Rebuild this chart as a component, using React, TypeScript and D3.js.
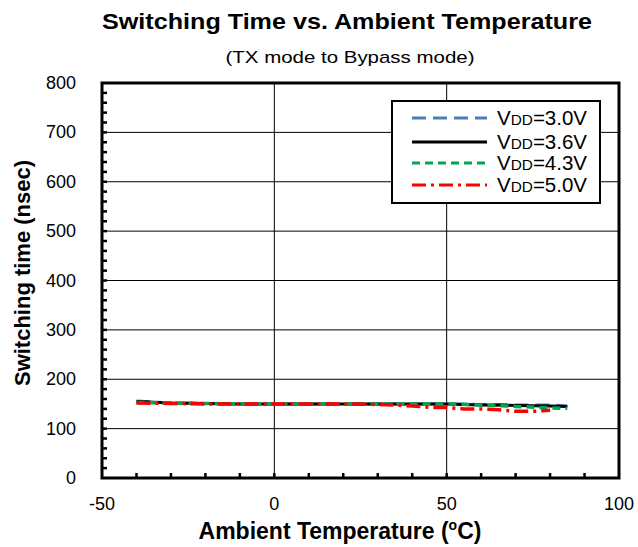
import React, { useEffect, useRef } from "react";
import * as d3 from "d3";

const temps = [-40, -30, -20, -10, 0, 10, 20, 30, 40, 50, 60, 70, 80, 85];
const vdd30 = [156, 152, 151, 150, 150, 150, 150, 150, 150, 150, 149, 148, 148, 146];
const vdd36 = [155, 152, 151, 150, 150, 150, 150, 150, 150, 150, 148, 147, 146, 145];
const vdd43 = [153, 152, 151, 150, 150, 150, 150, 150, 150, 150, 148, 145, 142, 141];
const redTemps = [-40, -30, -20, -10, 0, 10, 20, 30, 40, 45, 50, 55, 60, 65, 70, 75, 80];
const vdd50 = [152, 151, 150, 150, 150, 150, 150, 149, 146, 143, 143, 140, 140, 138, 135, 135, 137];

const seriesNames = ["3.0V", "3.6V", "4.3V", "5.0V"];
const xTicks = [-50, 0, 50, 100];
const yTicks = [0, 100, 200, 300, 400, 500, 600, 700, 800];

export default function App() {
  const ref = useRef<SVGSVGElement>(null);
  useEffect(() => {
    const svg = d3.select(ref.current);
    svg.selectAll("*").remove();
    const W = 638, H = 547;
    const L = 102, R = 619, T = 83, B = 478;
    const x = d3.scaleLinear().domain([-50, 100]).range([L, R]);
    const y = d3.scaleLinear().domain([0, 800]).range([B, T]);
    const font = "'Liberation Sans', Arial, sans-serif";

    svg.append("rect").attr("width", W).attr("height", H).attr("fill", "#fff");

    // gridlines
    const g = svg.append("g");
    xTicks.slice(1, -1).forEach((t) =>
      g.append("line").attr("x1", x(t)).attr("x2", x(t)).attr("y1", T).attr("y2", B)
        .attr("stroke", "#000").attr("stroke-width", 1));
    yTicks.slice(1, -1).forEach((t) =>
      g.append("line").attr("x1", L).attr("x2", R).attr("y1", y(t)).attr("y2", y(t))
        .attr("stroke", "#000").attr("stroke-width", 1));

    // minor ticks
    d3.range(-40, 100, 10).forEach((t) =>
      g.append("line").attr("x1", x(t)).attr("x2", x(t)).attr("y1", B).attr("y2", B - 5)
        .attr("stroke", "#000").attr("stroke-width", 2.5));
    d3.range(20, 800, 20).forEach((t) =>
      g.append("line").attr("x1", L).attr("x2", L + 5).attr("y1", y(t)).attr("y2", y(t))
        .attr("stroke", "#000").attr("stroke-width", 2.5));

    // lines
    const line = d3.line<[number, number]>().x((d) => x(d[0])).y((d) => y(d[1]));
    const mk = (xs: number[], ys: number[]) => xs.map((t, i) => [t, ys[i]] as [number, number]);
    const plot = svg.append("g");
    plot.append("path").attr("d", line(mk(temps, vdd30))).attr("fill", "none")
      .attr("stroke", "#4a7ebb").attr("stroke-width", 3).attr("stroke-dasharray", "14,7");
    plot.append("path").attr("d", line(mk(temps, vdd36))).attr("fill", "none")
      .attr("stroke", "#000").attr("stroke-width", 3);
    plot.append("path").attr("d", line(mk(temps, vdd43))).attr("fill", "none")
      .attr("stroke", "#00a651").attr("stroke-width", 3.5).attr("stroke-dasharray", "8,5");
    plot.append("path").attr("d", line(mk(redTemps, vdd50))).attr("fill", "none")
      .attr("stroke", "#ff0000").attr("stroke-width", 3.5).attr("stroke-dasharray", "14,5,3,5");

    // frame
    svg.append("rect").attr("x", L).attr("y", T).attr("width", R - L).attr("height", B - T)
      .attr("fill", "none").attr("stroke", "#000").attr("stroke-width", 3);

    // legend
    const lg = svg.append("g");
    lg.append("rect").attr("x", 392).attr("y", 101).attr("width", 208).attr("height", 102)
      .attr("fill", "#fff").attr("stroke", "#000").attr("stroke-width", 2);
    const rowsY = [118, 142, 163, 185];
    const styles = [
      { c: "#4a7ebb", w: 3, da: "14,7" },
      { c: "#000", w: 3, da: "" },
      { c: "#00a651", w: 3, da: "8,5" },
      { c: "#ff0000", w: 3, da: "14,5,3,5" },
    ];
    seriesNames.forEach((n, i) => {
      lg.append("line").attr("x1", 412).attr("x2", 487).attr("y1", rowsY[i]).attr("y2", rowsY[i])
        .attr("stroke", styles[i].c).attr("stroke-width", styles[i].w)
        .attr("stroke-dasharray", styles[i].da || null);
      const t = lg.append("text").attr("x", 497).attr("y", rowsY[i] + 7)
        .attr("font-family", font).attr("font-size", 20).attr("fill", "#000")
        .attr("textLength", 90).attr("lengthAdjust", "spacingAndGlyphs");
      t.append("tspan").text("V");
      t.append("tspan").attr("font-size", 15).text("DD");
      t.append("tspan").text("=" + n);
    });

    // tick labels
    yTicks.forEach((t) =>
      svg.append("text").attr("x", 76).attr("y", y(t) + 6).attr("text-anchor", "end")
        .attr("font-family", font).attr("font-size", 18).text(String(t)));
    xTicks.forEach((t) =>
      svg.append("text").attr("x", x(t)).attr("y", 510).attr("text-anchor", "middle")
        .attr("font-family", font).attr("font-size", 18).text(String(t)));

    // titles
    svg.append("text").attr("x", 347).attr("y", 29).attr("text-anchor", "middle")
      .attr("font-family", font).attr("font-size", 22).attr("font-weight", "bold")
      .attr("textLength", 490).attr("lengthAdjust", "spacingAndGlyphs")
      .text("Switching Time vs. Ambient Temperature");
    svg.append("text").attr("x", 350).attr("y", 63).attr("text-anchor", "middle")
      .attr("font-family", font).attr("font-size", 17)
      .attr("textLength", 249).attr("lengthAdjust", "spacingAndGlyphs")
      .text("(TX mode to Bypass mode)");
    const xl = svg.append("text").attr("x", 340).attr("y", 539).attr("text-anchor", "middle")
      .attr("font-family", font).attr("font-size", 23).attr("font-weight", "bold");
    xl.append("tspan").text("Ambient Temperature (");
    xl.append("tspan").attr("font-size", 14).attr("dy", -9).text("o");
    xl.append("tspan").attr("dy", 9).text("C)");
    svg.append("text").attr("transform", "translate(30,273) rotate(-90)").attr("text-anchor", "middle")
      .attr("font-family", font).attr("font-size", 22).attr("font-weight", "bold")
      .attr("textLength", 226).attr("lengthAdjust", "spacingAndGlyphs")
      .text("Switching time (nsec)");
  }, []);
  return <svg ref={ref} width={638} height={547} style={{ position: "absolute", left: 0, top: 0 }} />;
}
